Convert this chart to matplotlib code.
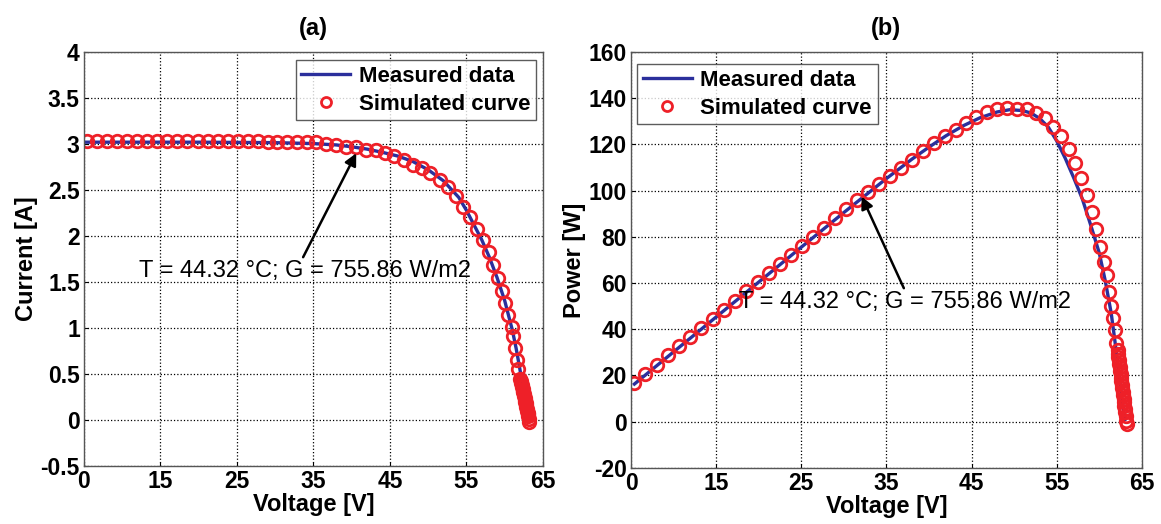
import matplotlib
matplotlib.use('Agg')
import matplotlib.pyplot as plt
from matplotlib.ticker import FuncFormatter

plt.rcParams['font.family'] = ['Liberation Sans', 'DejaVu Sans']

# simulated points (shared voltages)
sim_v = [5.4, 6.7, 8.0, 9.3, 10.6, 11.9, 13.2, 14.6, 15.9, 17.2, 18.5, 19.9,
         21.2, 22.5, 23.8, 25.1, 26.4, 27.7, 29.0, 30.3, 31.6, 32.8, 34.1,
         35.4, 36.7, 38.0, 39.3, 40.6, 41.9, 43.2, 44.3, 45.5, 46.8, 48.0,
         49.2, 50.3, 51.5, 52.6, 53.6, 54.6, 55.5, 56.4, 57.2, 57.9, 58.5,
         59.1, 59.6, 60.1, 60.5, 60.9, 61.1, 61.4, 61.6, 61.8, 62.0,
         62.15, 62.2, 62.25, 62.3, 62.35, 62.4, 62.45, 62.5, 62.55, 62.6,
         62.65, 62.7, 62.75, 62.8, 62.85, 62.9, 62.95, 63.0, 63.05, 63.1,
         63.15, 63.2]
sim_i = [3.03, 3.03, 3.03, 3.03, 3.03, 3.03, 3.03, 3.03, 3.03, 3.03, 3.03,
         3.03, 3.03, 3.03, 3.03, 3.03, 3.03, 3.03, 3.02, 3.02, 3.02, 3.02,
         3.02, 3.02, 3.00, 2.99, 2.97, 2.97, 2.94, 2.93, 2.90, 2.87, 2.83,
         2.77, 2.74, 2.68, 2.61, 2.53, 2.43, 2.32, 2.21, 2.08, 1.96, 1.83,
         1.69, 1.54, 1.40, 1.27, 1.14, 1.01, 0.91, 0.78, 0.65, 0.55, 0.45,
         0.42, 0.40, 0.38, 0.36, 0.34, 0.32, 0.30, 0.28, 0.26, 0.24, 0.22,
         0.20, 0.18, 0.16, 0.14, 0.12, 0.10, 0.08, 0.06, 0.04, 0.01, -0.02]
sim_p = [16.6, 20.7, 24.6, 28.7, 32.6, 36.6, 40.5, 44.6, 48.5, 52.4, 56.5,
         60.5, 64.4, 68.2, 72.0, 76.0, 79.9, 84.0, 88.0, 91.9, 95.9, 99.2,
         102.8, 106.4, 109.8, 113.4, 117.0, 120.6, 123.5, 126.4, 129.3, 131.8,
         133.9, 135.1, 135.7, 135.4, 135.1, 133.5, 131.3, 127.4, 123.5, 118.0,
         111.9, 105.3, 98.2, 90.9, 83.3, 75.7, 69.2, 63.3, 56.2, 50.2, 44.9,
         39.5, 34.0,
         31.0, 29.5, 28.0, 26.5, 25.0, 23.5, 22.0, 20.5, 19.0, 17.5, 16.0,
         14.5, 13.0, 11.5, 10.0, 8.5, 7.0, 5.5, 4.0, 2.5, 0.5, -1.0]

# measured curves
meas_iv_v = [5.2, 10, 20, 30, 35, 38, 40, 42, 44, 46, 48, 50, 52, 54, 55, 56,
             57, 58, 59, 60, 61, 61.5, 62, 62.5, 63, 63.1]
meas_iv_i = [3.02, 3.02, 3.02, 3.015, 3.005, 2.99, 2.97, 2.945, 2.91, 2.87,
             2.81, 2.72, 2.60, 2.42, 2.28, 2.12, 1.96, 1.77, 1.55, 1.30, 0.98,
             0.78, 0.55, 0.30, 0.03, 0.0]
meas_pv_v = [5.4, 10, 15, 20, 25, 30, 35, 38, 40, 42, 44, 46, 48, 49.5, 51,
             52, 53, 54, 55, 56, 57, 58, 59, 60, 60.7, 61.4, 61.8, 62.2, 62.6,
             63.0]
meas_pv_p = [16.3, 30.2, 45.3, 60.4, 75.5, 90.5, 105.2, 113.6, 118.8, 123.7,
             128.0, 131.5, 134.0, 135.0, 134.6, 133.5, 131.2, 127.5, 121.5,
             114.0, 105.5, 96.5, 85.0, 73.0, 61.0, 47.0, 36.0, 24.0, 12.0, 1.0]

xticks = [5, 15, 25, 35, 45, 55, 65]
xticklabels = ['0', '15', '25', '35', '45', '55', '65']
note = 'T = 44.32 \u00b0C; G = 755.86 W/m2'

BLUE = '#2b2f9c'
RED = '#ee2028'


def style_axes(ax, ylim, yticks, ylabel, title):
    ax.set_xlim(5, 65)
    ax.set_ylim(*ylim)
    ax.set_xticks(xticks)
    ax.set_xticklabels(xticklabels)
    ax.set_yticks(yticks)
    ax.yaxis.set_major_formatter(FuncFormatter(lambda v, p: '%g' % v))
    ax.grid(True, color='k', ls=':', lw=0.9)
    ax.tick_params(direction='in', length=3, labelsize=16.5, pad=3)
    for lab in ax.get_xticklabels() + ax.get_yticklabels():
        lab.set_fontweight('bold')
    for s in ax.spines.values():
        s.set_color('#555555')
        s.set_linewidth(1.0)
    ax.set_xlabel('Voltage [V]', fontsize=17, fontweight='bold', labelpad=0)
    ax.set_ylabel(ylabel, fontsize=17, fontweight='bold', labelpad=2)
    ax.set_title(title, fontsize=17, fontweight='bold', pad=12)


def add_legend(ax, loc, anchor):
    leg = ax.legend(loc=loc, fontsize=16, frameon=True, fancybox=False,
                    edgecolor='#333333', bbox_to_anchor=anchor,
                    borderaxespad=0, handlelength=2.2, handletextpad=0.4,
                    borderpad=0.25, labelspacing=0.3, markerscale=0.8)
    leg.get_frame().set_linewidth(1.0)
    for t in leg.get_texts():
        t.set_fontweight('bold')


def main():
    fig = plt.figure(figsize=(11.61, 5.24), dpi=100)

    ax1 = fig.add_axes([0.0723, 0.1107, 0.3953, 0.790])
    ax1.plot(meas_iv_v, meas_iv_i, color=BLUE, lw=2.4, label='Measured data')
    ax1.plot(sim_v, sim_i, 'o', mfc='none', mec=RED, ms=9, mew=2.0,
             label='Simulated curve')
    style_axes(ax1, (-0.5, 4), [-0.5, 0, 0.5, 1, 1.5, 2, 2.5, 3, 3.5, 4],
               'Current [A]', '(a)')
    ax1.annotate(note, xy=(40.6, 2.90), xytext=(12.2, 1.62),
                 fontsize=17, va='center', ha='left',
                 arrowprops=dict(arrowstyle='-|>', color='k', lw=1.8,
                                 mutation_scale=18, shrinkA=0, shrinkB=0,
                                 relpos=(0.49, 1.0)))
    add_legend(ax1, 'upper right', (0.985, 0.98))

    ax2 = fig.add_axes([0.5435, 0.107, 0.440, 0.794])
    ax2.plot(meas_pv_v, meas_pv_p, color=BLUE, lw=2.4, label='Measured data')
    ax2.plot(sim_v, sim_p, 'o', mfc='none', mec=RED, ms=9, mew=2.0,
             label='Simulated curve')
    style_axes(ax2, (-20, 160), list(range(-20, 161, 20)), 'Power [W]', '(b)')
    ax2.annotate(note, xy=(32.1, 97.4), xytext=(17.7, 51.8),
                 fontsize=17, va='center', ha='left',
                 arrowprops=dict(arrowstyle='-|>', color='k', lw=1.8,
                                 mutation_scale=18, shrinkA=0, shrinkB=0,
                                 relpos=(0.5, 1.0)))
    add_legend(ax2, 'upper left', (0.012, 0.97))

    fig.savefig('out.png', dpi=100)


if __name__ == '__main__':
    main()
